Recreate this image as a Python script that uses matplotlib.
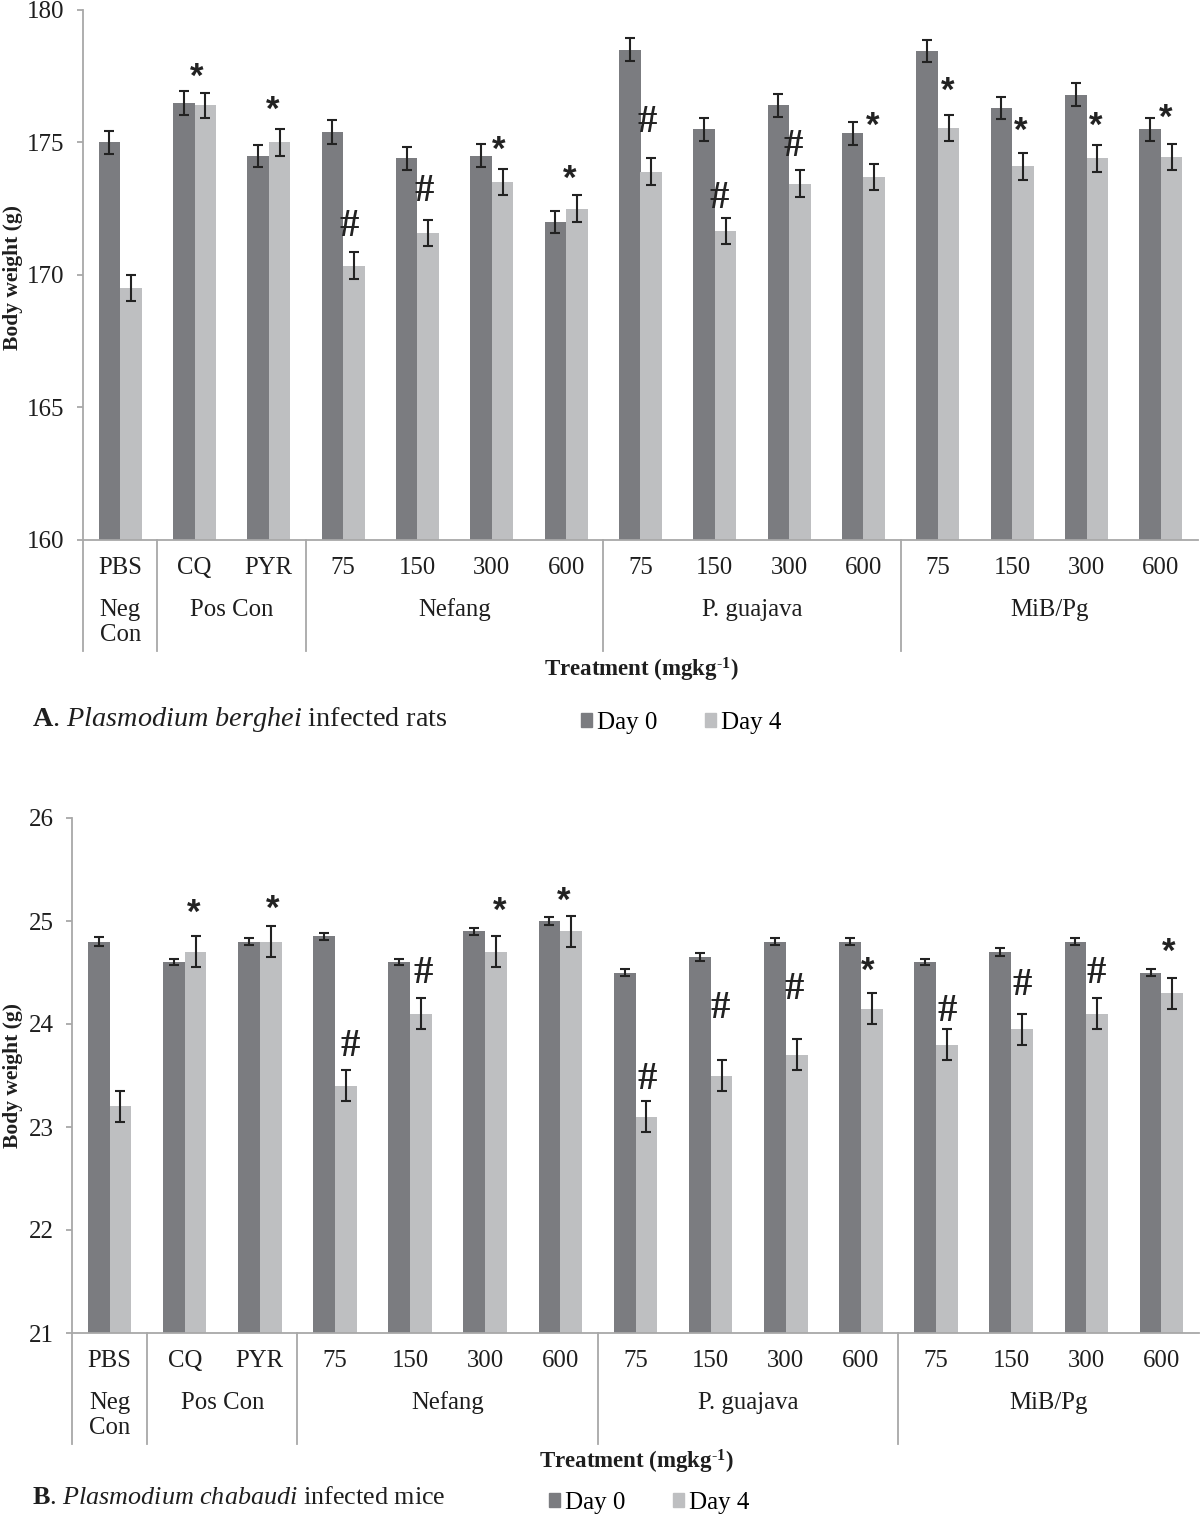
import matplotlib
matplotlib.use('Agg')
import matplotlib.pyplot as plt
import numpy as np
from matplotlib.patches import Patch

plt.rcParams['font.family'] = ['Liberation Serif', 'DejaVu Serif']
plt.rcParams['mathtext.fontset'] = 'custom'
plt.rcParams['mathtext.rm'] = 'Liberation Serif'
plt.rcParams['mathtext.it'] = 'Liberation Serif:italic'
plt.rcParams['mathtext.bf'] = 'Liberation Serif:bold'

# categories
cats = ['PBS', 'CQ', 'PYR', '75', '150', '300', '600', '75', '150', '300', '600',
        '75', '150', '300', '600']
groups = ['Neg\nCon', 'Pos Con', 'Nefang', 'P. guajava', 'MiB/Pg']
group_start = [0, 1, 3, 7, 11]
group_end = [0, 2, 6, 10, 14]

# A. P. berghei infected rats
rat_d0 = [175.0, 176.5, 174.5, 175.4, 174.4, 174.5, 172.0, 178.5, 175.5, 176.4, 175.35,
          178.45, 176.3, 176.8, 175.5]
rat_d0_err = [0.42, 0.45, 0.42, 0.45, 0.44, 0.44, 0.43, 0.44, 0.43, 0.44, 0.43,
              0.42, 0.43, 0.44, 0.43]
rat_d4 = [169.5, 176.4, 175.0, 170.35, 171.6, 173.5, 172.5, 173.9, 171.65, 173.45, 173.7,
          175.55, 174.1, 174.4, 174.45]
rat_d4_err = [0.5, 0.47, 0.5, 0.5, 0.49, 0.5, 0.5, 0.5, 0.49, 0.5, 0.5,
              0.5, 0.5, 0.5, 0.5]
rat_marks = ['', '*', '*', '#', '#', '*', '*', '#', '#', '#', '*', '*', '*', '*', '*']
rat_mark_y = [0, 177.75, 176.5, 172.0, 173.3, 175.0, 173.9, 175.9, 173.05, 175.0, 175.9,
              177.2, 175.7, 175.9, 176.2]
rat_mark_dx = [0, 0.03, 0.05, 0.08, 0.09, 0.09, 0.05, 0.09, 0.06, 0.05, 0.13,
               0.13, 0.12, 0.12, 0.06]

# B. P. chabaudi infected mice
mice_d0 = [24.8, 24.6, 24.8, 24.85, 24.6, 24.9, 25.0, 24.5, 24.65, 24.8, 24.8,
           24.6, 24.7, 24.8, 24.5]
mice_d0_err = [0.04, 0.03, 0.035, 0.035, 0.03, 0.035, 0.035, 0.03, 0.035, 0.035, 0.035,
               0.03, 0.035, 0.035, 0.03]
mice_d4 = [23.2, 24.7, 24.8, 23.4, 24.1, 24.7, 24.9, 23.1, 23.5, 23.7, 24.15,
           23.8, 23.95, 24.1, 24.3]
mice_d4_err = [0.15, 0.15, 0.15, 0.15, 0.15, 0.15, 0.15, 0.15, 0.15, 0.15, 0.15,
               0.15, 0.15, 0.15, 0.15]
mice_marks = ['', '*', '*', '#', '#', '*', '*', '#', '#', '#', '*', '#', '#', '#', '*']
mice_mark_y = [0, 25.15, 25.19, 23.82, 24.53, 25.17, 25.26, 23.5, 24.19, 24.38, 24.59,
               24.16, 24.41, 24.53, 24.77]
mice_mark_dx = [0, 0.12, 0.17, 0.2, 0.17, 0.19, 0.04, 0.16, 0.13, 0.11, 0.09,
                0.15, 0.15, 0.13, 0.09]

C0 = '#7b7c80'
C4 = '#bebfc1'
AXC = '#a8a8a8'
TXT = '#1e1e1e'
W, H = 1200, 1517
FS = 17.8


def panel(ax, d0, e0, d4, e4, marks, mdx, my, ylim, yticks, h_px):
    x = np.arange(len(cats))
    w = 0.29
    ek = dict(ecolor='#222222', elinewidth=1.5, capsize=3.6, capthick=1.5)
    ax.bar(x - w / 2, d0, w, yerr=e0, color=C0, error_kw=ek, zorder=2)
    ax.bar(x + w / 2, d4, w, yerr=e4, color=C4, error_kw=ek, zorder=2)
    for i, m in enumerate(marks):
        if not m:
            continue
        if m == '*':
            ax.annotate(m, (x[i] + mdx[i], my[i]), xytext=(0, -5.5), textcoords='offset points',
                        ha='center', va='center', fontsize=25, fontweight='bold',
                        family='Liberation Sans', color='#222222')
        else:
            ax.annotate(m, (x[i] + mdx[i], my[i]), xytext=(0, -3), textcoords='offset points',
                        ha='center', va='center', fontsize=28, fontweight='bold',
                        color='#222222')
    ax.set_xlim(-0.5, len(cats) - 0.5)
    ax.set_ylim(*ylim)
    ax.set_yticks(yticks)
    ax.set_xticks([])
    for s in ['top', 'right']:
        ax.spines[s].set_visible(False)
    for s in ['left', 'bottom']:
        ax.spines[s].set_color(AXC)
        ax.spines[s].set_linewidth(1.3)
    ax.tick_params(axis='y', length=4.3, width=1.3, color=AXC, pad=9,
                   labelsize=18, labelcolor=TXT)
    tr = ax.get_xaxis_transform()

    def fy(px):
        return -px / h_px

    for i, c in enumerate(cats):
        ax.text(x[i], fy(28), c, transform=tr, ha='center', va='center',
                fontsize=FS, color=TXT)
    for g, s, e in zip(groups, group_start, group_end):
        if '\n' in g:
            ax.text((s + e) / 2, fy(59), g, transform=tr, ha='center', va='top',
                    fontsize=FS, color=TXT, linespacing=1.2)
        else:
            ax.text((s + e) / 2, fy(70), g, transform=tr, ha='center', va='center',
                    fontsize=FS, color=TXT)
        ax.plot([s - 0.5, s - 0.5], [0, fy(111)], transform=tr, color=AXC,
                lw=1.3, clip_on=False)


fig = plt.figure(figsize=(W / 100, H / 100), dpi=100)

axA = fig.add_axes([83 / W, 1 - 540 / H, 1115 / W, 530 / H])
panel(axA, rat_d0, rat_d0_err, rat_d4, rat_d4_err, rat_marks, rat_mark_dx, rat_mark_y,
      (160, 180), [160, 165, 170, 175, 180], 530)

axB = fig.add_axes([72 / W, 1 - 1333 / H, 1127 / W, 515 / H])
panel(axB, mice_d0, mice_d0_err, mice_d4, mice_d4_err, mice_marks, mice_mark_dx, mice_mark_y,
      (21, 26), [21, 22, 23, 24, 25, 26], 515)

for yc in [277, 1075]:
    fig.text(13 / W, 1 - yc / H, 'Body weight (g)', rotation=90, ha='center', va='center',
             fontsize=15.5, fontweight='bold', color=TXT)

xlab = r'$\mathbf{Treatment\ (mgkg^{\text{-}1})}$'
fig.text(641 / W, 1 - 670 / H, xlab, ha='center', va='center', fontsize=16.5, color=TXT)
fig.text(636 / W, 1 - 1462 / H, xlab, ha='center', va='center', fontsize=16.5, color=TXT)

fig.text(32 / W, 1 - 720 / H, r'$\mathbf{A}$. $\mathit{Plasmodium\ berghei}$ infected rats',
         ha='left', va='center', fontsize=20.3, color=TXT)
fig.text(32 / W, 1 - 1498 / H, r'$\mathbf{B}$. $\mathit{Plasmodium\ chabaudi}$ infected mice',
         ha='left', va='center', fontsize=18.8, color=TXT)

handles = [Patch(color=C0), Patch(color=C4)]
for xl, yl in [(581, 723), (549, 1503)]:
    fig.legend(handles, ['Day 0', 'Day 4'], loc='center left',
               bbox_to_anchor=(xl / W, 1 - yl / H), ncol=2, frameon=False,
               handlelength=0.45, handleheight=0.45, handletextpad=0.2,
               columnspacing=1.9, fontsize=18, borderaxespad=0, borderpad=0)

fig.savefig('out.png', dpi=100)
